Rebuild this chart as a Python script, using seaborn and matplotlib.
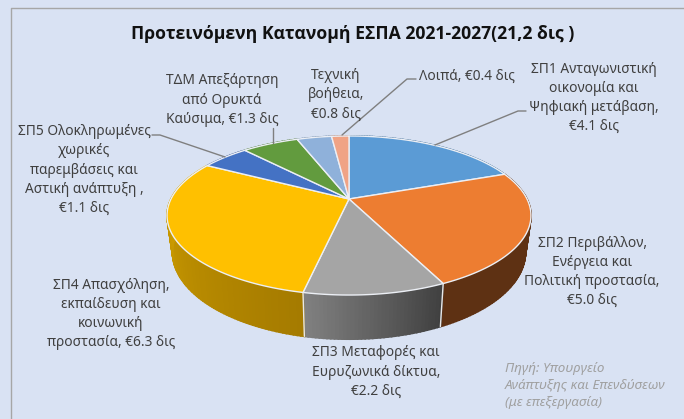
import numpy as np
import seaborn as sns
import matplotlib
matplotlib.use('Agg')
import matplotlib.pyplot as plt

# values in billions, clockwise from 12 o'clock
categories = ['ΣΠ1', 'ΣΠ2', 'ΣΠ3', 'ΣΠ4', 'ΣΠ5', 'ΤΔΜ', 'Τεχνική βοήθεια', 'Λοιπά']
values = [4.1, 5.0, 2.2, 6.3, 1.1, 1.3, 0.8, 0.4]
top_colors = ['#5B9BD5', '#ED7D31', '#A5A5A5', '#FFC000', '#4472C4', '#629B3E', '#8FB1DA', '#F0A385']
wall_colors = [('#3F6E99', '#3F6E99'), ('#5E3113', '#5E3113'), ('#404040', '#808080'),
               ('#A57B00', '#DBA800'), ('#2F5090', '#2F5090'), ('#4A7530', '#4A7530'),
               ('#6A85A5', '#6A85A5'), ('#B07860', '#B07860')]

title = 'Προτεινόμενη Κατανομή ΕΣΠΑ 2021-2027(21,2 δις )'
source = 'Πηγή: Υπουργείο\nΑνάπτυξης και Επενδύσεων\n(με επεξεργασία)'
# label text, centre x, centre y in pixels
labels = [
    ('ΣΠ1 Ανταγωνιστική\nοικονομία και\nΨηφιακή μετάβαση,\n€4.1 δις', 594, 98),
    ('ΣΠ2 Περιβάλλον,\nΕνέργεια και\nΠολιτική προστασία,\n€5.0 δις', 592, 272),
    ('ΣΠ3 Μεταφορές και\nΕυρυζωνικά δίκτυα,\n€2.2 δις', 376, 372),
    ('ΣΠ4 Απασχόληση,\nεκπαίδευση και\nκοινωνική\nπροστασία, €6.3 δις', 111, 314),
    ('ΣΠ5 Ολοκληρωμένες\nχωρικές\nπαρεμβάσεις και\nΑστική ανάπτυξη ,\n€1.1 δις', 84, 170),
    ('ΤΔΜ Απεξάρτηση\nαπό Ορυκτά\nΚαύσιμα, €1.3 δις', 222, 100),
    ('Τεχνική\nβοήθεια,\n€0.8 δις', 336, 95),
    ('Λοιπά, €0.4 δις', 467, 76),
]
leaders = [
    ([435, 518, 526], [145, 111, 111]),
    ([152, 160, 225], [135, 135, 157]),
    ([273, 273], [128, 143]),
    ([342, 407, 416], [135, 79, 79]),
]

# pie projection: a tilted disc in perspective, in image pixels
CX, CY = 349, 199
RX, RY, K = 178, 76.1, -0.2075
DEPTH = 35
BOTTOM_SHRINK = 0.03


def project(theta, drop=0.0):
    u, v = np.sin(theta), -np.cos(theta)
    den = 1 + K * v
    shrink = 1 - BOTTOM_SHRINK * drop / DEPTH
    return CX + RX * shrink * u / den, CY + RY * v / den + drop / den


sns.set_theme(style='white', rc={'font.family': 'Noto Sans'})
fig, ax = plt.subplots(figsize=(6.84, 4.19), dpi=100)
fig.subplots_adjust(0, 0, 1, 1)
bg = '#D9E2F3'
fig.patch.set_facecolor(bg)
ax.set_facecolor(bg)
ax.set_xlim(0, 684)
ax.set_ylim(419, 0)
ax.axis('off')

ax.plot([10.5, 10.5, 684], [419, 8.5, 8.5], color='#A6A6A6', lw=1)

bounds = np.cumsum([0] + values) / sum(values) * 2 * np.pi

# side wall, thin quads with the colour ramp along the arc
for i, (a, b) in enumerate(zip(bounds[:-1], bounds[1:])):
    n = max(int((b - a) / np.radians(1)), 2)
    ramp = sns.blend_palette(wall_colors[i], n)
    th = np.linspace(a, b, n + 1)
    for j in range(n):
        seg = np.linspace(th[j], th[j + 1], 3)
        x0, y0 = project(seg)
        x1, y1 = project(seg[::-1], DEPTH)
        ax.fill(np.r_[x0, x1], np.r_[y0, y1], facecolor=ramp[j], edgecolor=ramp[j],
                lw=1.2, zorder=2)

# separators on the wall
for b in bounds[1:4]:
    x0, y0 = project(b)
    x1, y1 = project(b, DEPTH)
    if y0 > CY:
        ax.plot([x0, x1], [y0, y1], color='#E8E8E8', lw=1, zorder=3)

# top surface
for i, (a, b) in enumerate(zip(bounds[:-1], bounds[1:])):
    th = np.linspace(a, b, 100)
    x, y = project(th)
    ax.fill(np.r_[CX, x], np.r_[CY, y], facecolor=top_colors[i], edgecolor='#ECEFF5',
            lw=1, joinstyle='round', zorder=4)

for (lx, ly) in leaders:
    ax.plot(lx, ly, color='#7F7F7F', lw=1, zorder=5)

for text, x, y in labels:
    ax.text(x, y, text, ha='center', va='center', fontsize=9.9, color='#404040',
            linespacing=1.38, zorder=6)
ax.text(352.5, 34, title, ha='center', va='center', fontsize=12.7, fontweight='bold',
        family='Open Sans', color='#111111')
ax.text(505, 385, source, ha='left', va='center', fontsize=9.7, style='italic',
        color='#A0A0A0', linespacing=1.4)

fig.savefig('out.png', dpi=100, facecolor=bg)
